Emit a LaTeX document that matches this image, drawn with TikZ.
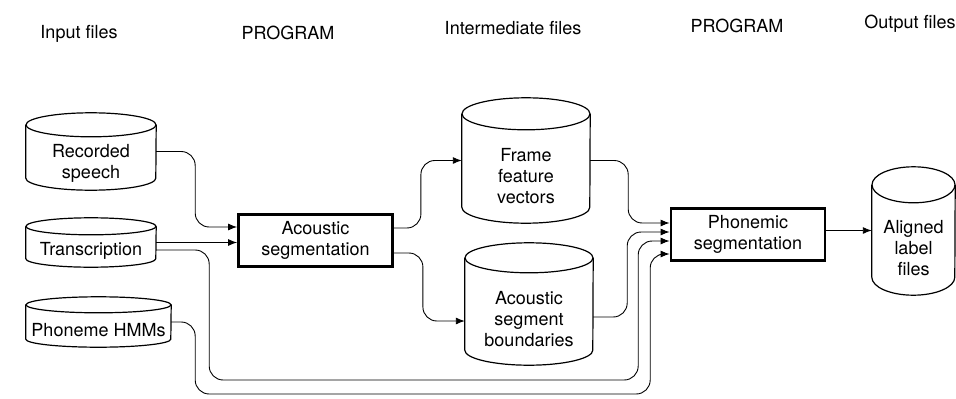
\documentclass[tikz,border=0pt]{standalone}
\usepackage{fontspec}
\setmainfont{TeX Gyre Heros}
\usetikzlibrary{calc,arrows.meta}

\begin{document}
\begin{tikzpicture}[x=1pt,y=1pt,every node/.style={font=\fontsize{18}{21}\selectfont}]
        \tikzstyle{disco}=[rectangle, draw=none, inner sep=0pt]
        \tikzstyle{borda}=[draw=black, line width=1.2pt]
        \tikzstyle{programa}=[rectangle, draw=black, line width=2.8pt, align=center, minimum width=154pt, minimum height=52pt, inner sep=0pt]
        \tikzstyle{rotulo}=[align=center]
        \tikzstyle{liga}=[line width=0.9pt, rounded corners=14pt, -{Latex[length=9pt,width=7pt]}]

        \useasboundingbox (0,0) rectangle (956,-399);

        % cabecalhos
        \node (entrada) at (79,-34) {Input files};
        \node (prog1) at (288,-33) {PROGRAM};
        \node (interm) at (513,-28) {Intermediate files};
        \node (prog2) at (737,-26) {PROGRAM};
        \node (saida) at (910,-24) {Output files};

        % arquivos de entrada
        \node[disco, minimum width=130pt, minimum height=77pt,
          label={[rotulo, yshift=-12pt]center:Recorded\\speech}] (gravada) at (91,-151.5) {};
        \node[disco, minimum width=130pt, minimum height=49pt,
          label={[rotulo, yshift=-8pt]center:Transcription}] (transc) at (91,-242.5) {};
        \node[disco, minimum width=145pt, minimum height=50pt,
          label={[rotulo, yshift=-8pt]center:Phoneme HMMs}] (fonemas) at (98.5,-322) {};

        % programas
        \node[programa] (acustica) at (315.5,-240.5) {Acoustic\\segmentation};
        \node[programa] (fonemica) at (748,-234.5) {Phonemic\\segmentation};

        % arquivos intermediarios e de saida
        \node[disco, minimum width=128pt, minimum height=125pt,
          label={[rotulo, yshift=-16pt]center:Frame\\feature\\vectors}] (quadros) at (526,-160.5) {};
        \node[disco, minimum width=128pt, minimum height=122pt,
          label={[rotulo, yshift=-15pt]center:Acoustic\\segment\\boundaries}] (fronteiras) at (529,-304) {};
        \node[disco, minimum width=83pt, minimum height=128pt,
          label={[rotulo, yshift=-17pt]center:Aligned\\label\\files}] (alinhados) at (913.5,-231) {};

        % cilindros (nome/meia largura/raio da elipse)
        \foreach \n/\w/\r in {gravada/65/12, transc/65/8.5, fonemas/72.5/8,
                              quadros/64/16, fronteiras/64/15, alinhados/41.5/18}{
          \draw[borda] ($(\n.north west)+(0,-\r)$) -- ($(\n.south west)+(0,\r)$)
            arc[start angle=180, end angle=360, x radius=\w, y radius=\r]
            -- ($(\n.north east)+(0,-\r)$);
          \draw[borda] ($(\n.north)+(0,-\r)$) ellipse[x radius=\w, y radius=\r];
        }

        % ligacoes
        \draw[liga] (gravada.east) -- ++(39,0) |- ([yshift=13.5pt]acustica.west);
        \draw[liga] (transc.east) -- (transc.east -| acustica.west);
        \draw[liga] ([yshift=12.5pt]acustica.east) -- ++(27,0) |- (quadros.west);
        \draw[liga] ([yshift=-12.5pt]acustica.east) -- ++(29,0) |- ([yshift=-17pt]fronteiras.west);
        \draw[liga] (quadros.east) -- ++(38,0) |- ([yshift=11.5pt]fonemica.west);
        \draw[liga] ([yshift=-13pt]fronteiras.east) -- ++(34,0) |- ([yshift=2.5pt]fonemica.west);
        \draw[liga] ([yshift=-7.5pt]transc.east) -- ++(53,0) |- ++(429,-130) |- ([yshift=-6.5pt]fonemica.west);
        \draw[liga] (fonemas.east) -- ++(24,0) |- ++(455,-72) |- ([yshift=-19.5pt]fonemica.west);
        \draw[liga] ([yshift=4pt]fonemica.east) -- ([yshift=4pt]fonemica.east -| alinhados.west);
      \end{tikzpicture}
\end{document}
